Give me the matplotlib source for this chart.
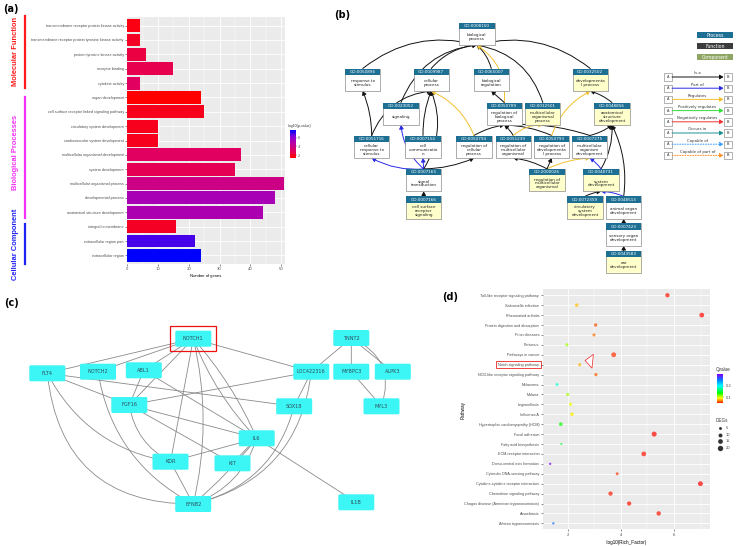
import matplotlib.pyplot as plt
import matplotlib.transforms as mtransforms
from matplotlib.colors import LinearSegmentedColormap, Normalize
from matplotlib.patches import Rectangle, FancyBboxPatch, FancyArrowPatch
from matplotlib.cm import ScalarMappable

plt.rcParams['font.family'] = ['DejaVu Sans']

W, H = 738, 546

# ---------------- (a) GO enrichment bars ----------------
go_terms = ["transmembrane receptor protein kinase activity",
            "transmembrane receptor protein tyrosine kinase activity",
            "protein tyrosine kinase activity", "receptor binding", "cytokine activity",
            "organ development", "cell surface receptor linked signaling pathway",
            "circulatory system development", "cardiovascular system development",
            "multicellular organismal development", "system development",
            "multicellular organismal process", "developmental process",
            "anatomical structure development", "integral to membrane",
            "extracellular region part", "extracellular region"]
go_counts = [4, 4, 6, 15, 4, 24, 25, 10, 10, 37, 35, 51, 48, 44, 16, 22, 24]
go_logp = [1.7, 2.0, 2.5, 2.7, 3.0, 1.4, 1.85, 1.9, 1.9, 3.0, 2.8, 3.9, 5.2, 5.05, 2.0, 6.9, 7.7]
go_groups = ["Molecular Function", "Biological Processes", "Cellular Component"]
go_group_span = [(-0.7, 4.35), (4.95, 13.4), (13.8, 16.6)]
go_group_mid = [1.82, 8.84, 15.26]
go_group_colors = ["#FF1A1A", "#F531F5", "#2020F5"]

# ---------------- (b) GO graph ----------------
node_ids = ["GO:0008150", "GO:0050896", "GO:0009987", "GO:0065007", "GO:0032502",
            "GO:0023052", "GO:0050789", "GO:0032501", "GO:0048856",
            "GO:0051716", "GO:0007154", "GO:0050794", "GO:0051239", "GO:0050793", "GO:0007275",
            "GO:0007165", "GO:2000026", "GO:0048731",
            "GO:0007166", "GO:0072359", "GO:0048513", "GO:0007423", "GO:0043583"]
node_names = ["biological\nprocess", "response to\nstimulus", "cellular\nprocess", "biological\nregulation",
              "developmenta\nl process", "signaling", "regulation of\nbiological\nprocess",
              "multicellular\norganismal\nprocess", "anatomical\nstructure\ndevelopment",
              "cellular\nresponse to\nstimulus", "cell\ncommunicatio\nn", "regulation of\ncellular\nprocess",
              "regulation of\nmulticellular\norganismal", "regulation of\ndevelopmenta\nl process",
              "multicellular\norganism\ndevelopment", "signal\ntransduction",
              "regulation of\nmulticellular\norganismal", "system\ndevelopment",
              "cell surface\nreceptor\nsignaling", "circulatory\nsystem\ndevelopment",
              "animal organ\ndevelopment", "sensory organ\ndevelopment", "ear\ndevelopment"]
node_x = [476.8, 362.7, 431.2, 491.3, 590.3, 401.0, 504.3, 542.8, 612.0,
          371.7, 423.0, 474.0, 513.2, 551.7, 589.8, 423.7, 547.0, 601.0,
          423.7, 585.0, 623.7, 623.7, 623.7]
node_y = [33.8, 79.8, 79.8, 79.8, 79.8, 113.8, 113.8, 113.8, 113.8,
          146.8, 146.8, 146.8, 146.8, 146.8, 146.8, 180.2, 180.2, 180.2,
          207.7, 207.7, 207.7, 234.7, 262.0]
node_hit = [0, 0, 0, 0, 1, 0, 0, 1, 1, 0, 0, 0, 0, 0, 0, 0, 1, 1, 1, 1, 0, 0, 1]
# (child, parent, relation, curvature)
go_links = [(1, 0, "is_a", -0.25), (2, 0, "is_a", -0.2), (3, 0, "is_a", 0.15), (4, 0, "is_a", 0.25),
            (5, 0, "is_a", -0.3), (7, 0, "is_a", 0.3), (6, 0, "regulates", 0.3),
            (9, 1, "is_a", 0.1), (9, 2, "is_a", -0.3), (10, 2, "is_a", -0.1), (15, 2, "is_a", 0.25),
            (6, 3, "is_a", 0.0), (11, 6, "is_a", -0.1), (12, 6, "is_a", 0.1), (13, 6, "is_a", 0.1),
            (14, 6, "is_a", 0.1), (14, 8, "is_a", 0.1), (8, 4, "is_a", 0.1), (17, 8, "is_a", 0.15),
            (20, 8, "is_a", 0.15), (11, 2, "regulates", 0.2), (13, 4, "regulates", -0.2),
            (12, 7, "regulates", -0.2), (16, 14, "regulates", -0.1), (16, 12, "is_a", 0.1),
            (16, 13, "is_a", 0.0), (15, 9, "part_of", -0.15), (15, 5, "part_of", -0.2),
            (15, 10, "part_of", 0.0), (15, 11, "is_a", 0.1), (17, 14, "part_of", 0.1),
            (18, 15, "is_a", 0.0), (19, 17, "is_a", -0.1), (20, 17, "part_of", 0.1),
            (21, 20, "is_a", 0.0), (22, 21, "is_a", 0.0)]
rel_names = ["Is a", "Part of", "Regulates", "Positively regulates", "Negatively regulates",
             "Occurs in", "Capable of", "Capable of part of"]
rel_colors = ["#111111", "#2B2BE8", "#F2C12E", "#33DD33", "#EE3333", "#1A9090", "#3399FF", "#FF8C1A"]
rel_styles = ["-", "-", "-", "-", "-", "-", ":", ":"]
onto_names = ["Process", "Function", "Component"]
onto_colors = ["#1D6F94", "#3C3C3C", "#8EA564"]

# ---------------- (c) PPI network ----------------
ppi_nodes = ["NOTCH1", "TNNT2", "FLT4", "NOTCH2", "ABL1", "LOC422316", "MYBPC3", "ALPK3",
             "FGF16", "SOX18", "MYL3", "IL6", "KDR", "KIT", "EFNB2", "IL1B"]
ppi_x = [193.3, 351.3, 47.3, 98.0, 143.8, 311.3, 351.3, 392.8,
         129.3, 294.2, 381.5, 256.7, 170.5, 232.5, 193.2, 356.3]
ppi_y = [338.7, 338.0, 373.3, 371.7, 370.3, 371.7, 371.7, 371.7,
         405.0, 406.3, 406.3, 438.3, 461.7, 463.3, 504.0, 502.3]
ppi_edges = [("NOTCH1", "FLT4", 0), ("NOTCH1", "NOTCH2", 0), ("NOTCH1", "ABL1", 0),
             ("NOTCH1", "FGF16", 0), ("NOTCH1", "LOC422316", 0), ("NOTCH1", "KDR", 0),
             ("NOTCH1", "EFNB2", -0.12), ("NOTCH1", "IL6", -0.08), ("NOTCH1", "IL6", 0.1),
             ("TNNT2", "LOC422316", 0), ("TNNT2", "MYBPC3", 0), ("TNNT2", "ALPK3", 0),
             ("TNNT2", "MYL3", -0.45), ("MYBPC3", "MYL3", 0),
             ("FLT4", "FGF16", 0), ("FLT4", "SOX18", 0), ("FLT4", "KDR", 0.25),
             ("FLT4", "EFNB2", 0.45), ("NOTCH2", "EFNB2", 0.25),
             ("ABL1", "FGF16", 0), ("ABL1", "IL6", 0),
             ("LOC422316", "FGF16", 0), ("LOC422316", "SOX18", 0), ("LOC422316", "EFNB2", -0.35),
             ("FGF16", "IL6", 0), ("FGF16", "KDR", 0.25), ("FGF16", "KIT", 0),
             ("SOX18", "EFNB2", -0.3), ("IL6", "KDR", 0), ("IL6", "KIT", 0),
             ("IL6", "EFNB2", -0.25), ("IL6", "EFNB2", -0.05), ("IL6", "IL1B", 0), ("KDR", "EFNB2", 0)]

# ---------------- (d) KEGG dot plot ----------------
kegg_paths = ["Toll-like receptor signaling pathway", "Salmonella infection", "Rheumatoid arthritis",
              "Protein digestion and absorption", "Prion diseases", "Pertussis", "Pathways in cancer",
              "Notch signaling pathway", "NOD-like receptor signaling pathway", "Melanoma", "Malaria",
              "Legionellosis", "Influenza A", "Hypertrophic cardiomyopathy (HCM)", "Focal adhesion",
              "Fatty acid biosynthesis", "ECM-receptor interaction", "Dorso-ventral axis formation",
              "Cytosolic DNA-sensing pathway", "Cytokine-cytokine receptor interaction",
              "Chemokine signaling pathway", "Chagas disease (American trypanosomiasis)",
              "Amoebiasis", "African trypanosomiasis"]
kegg_rich = [5.75, 2.34, 7.04, 3.05, 2.99, 1.97, 3.73, 2.45, 3.06, 1.6, 2.0, 2.11,
             2.16, 1.74, 5.25, 1.76, 4.86, 1.34, 3.86, 6.99, 3.61, 4.31, 5.42, 1.46]
kegg_q = [0.05, 0.08, 0.048, 0.06, 0.065, 0.11, 0.055, 0.078, 0.062, 0.19, 0.11, 0.095,
          0.09, 0.137, 0.048, 0.15, 0.05, 0.30, 0.055, 0.047, 0.052, 0.05, 0.05, 0.257]
kegg_degs = [12, 8, 15, 7, 6, 6, 16, 6, 7, 5, 6, 7, 9, 9, 17, 2, 15, 3, 5, 16, 12, 12, 13, 3]
deg_legend = [5, 10, 15, 20]

TICK_FONT = 'Liberation Sans'


def px_rect(left, top, width, height):
    return [left / W, 1 - (top + height) / H, width / W, height / H]


def deg_size(n):
    return 0.72 * n + 0.8


fig = plt.figure(figsize=(W / 100, H / 100), dpi=100)
canvas = fig.add_axes([0, 0, 1, 1])
canvas.set_xlim(0, W)
canvas.set_ylim(H, 0)
canvas.axis('off')

for lbl, (lx, ly) in zip(["(a)", "(b)", "(c)", "(d)"], [(3, 9), (334, 15), (4, 303), (442, 297)]):
    canvas.text(lx, ly, lbl, fontsize=7, fontweight='bold', va='center', ha='left')

# ---- panel (a)
ax_a = fig.add_axes(px_rect(127.3, 17, 157.4, 247))
cmap_a = LinearSegmentedColormap.from_list('rb', [(0, '#FF0000'), (0.25, '#E2005F'), (0.5, '#BC009F'),
                                                  (0.75, '#8A00D4'), (1, '#0000FF')])
norm_a = Normalize(1.4, 7.7)
ypos = list(range(len(go_terms)))
ax_a.barh(ypos, go_counts, height=0.9, color=cmap_a(norm_a(go_logp)), zorder=3)
ax_a.set_facecolor('#EBEBEB')
ax_a.set_xlim(0, 51.2)
ax_a.set_ylim(16.6, -0.6)
ax_a.set_yticks(ypos)
ax_a.set_yticklabels(go_terms, family=TICK_FONT)
ax_a.set_xticks([0, 10, 20, 30, 40, 50])
ax_a.set_xticks([5, 15, 25, 35, 45], minor=True)
ax_a.grid(which='major', color='white', lw=0.6, zorder=0)
ax_a.grid(which='minor', axis='x', color='white', lw=0.3, zorder=0)
ax_a.tick_params(length=1.5, width=0.4, color='#333333', pad=1, labelsize=2.7, labelcolor='#4D4D4D')
ax_a.tick_params(which='minor', length=0)
for s in ax_a.spines.values():
    s.set_visible(False)
ax_a.set_xlabel('Number of genes', fontsize=3.0, labelpad=1.5, family=TICK_FONT)

cax_a = fig.add_axes(px_rect(289.5, 130, 6, 28))
cb_a = fig.colorbar(ScalarMappable(norm_a, cmap_a), cax=cax_a, ticks=[2, 4, 6])
cb_a.outline.set_visible(False)
cax_a.tick_params(labelsize=2.5, length=1, width=0.3, pad=0.8, colors='#4D4D4D')
canvas.text(288, 126, '-log10(p-value)', fontsize=2.5, color='#333333', va='center', family=TICK_FONT)

blend_a = mtransforms.blended_transform_factory(canvas.transData, ax_a.transData)
for name, (y0, y1), mid, col in zip(go_groups, go_group_span, go_group_mid, go_group_colors):
    canvas.plot([24.5, 24.5], [y0, y1], color=col, lw=1.6, transform=blend_a, clip_on=False)
    canvas.text(15.8, mid, name, rotation=90, transform=blend_a, color=col,
                fontsize=5.4, fontweight='bold', family='Liberation Sans', ha='center', va='center')

# ---- panel (b)
BW, BH, HH = 35.4, 22.6, 6.6
for c, p, kind, rad in go_links:
    col = rel_colors[["is_a", "part_of", "regulates"].index(kind)]
    start = (node_x[c], node_y[c] - BH / 2)
    end = (node_x[p], node_y[p] + BH / 2)
    canvas.add_patch(FancyArrowPatch(start, end, connectionstyle=f'arc3,rad={rad}',
                                     arrowstyle='-|>,head_length=2.2,head_width=1.3',
                                     color=col, lw=0.7, shrinkA=0, shrinkB=0, zorder=4))
for gid, name, x, y, hit in zip(node_ids, node_names, node_x, node_y, node_hit):
    canvas.add_patch(Rectangle((x - BW / 2, y - BH / 2), BW, BH, fc='#FFFFCC' if hit else 'white',
                               ec='#8C8C8C', lw=0.5, zorder=5))
    canvas.add_patch(Rectangle((x - BW / 2, y - BH / 2), BW, HH, fc='#1D6F94', ec='none', zorder=6))
    canvas.text(x, y - BH / 2 + HH / 2, gid, color='white', fontsize=3, ha='center', va='center', zorder=7)
    canvas.text(x, y + HH / 2, name, fontsize=3, ha='center', va='center', linespacing=0.95,
                color='#222222', zorder=7)

for i, (name, col) in enumerate(zip(onto_names, onto_colors)):
    ty = 32.3 + i * 11
    canvas.add_patch(Rectangle((697, ty), 36, 5.8, fc=col, ec='none'))
    canvas.text(715, ty + 2.9, name, color='white', fontsize=3.3, ha='center', va='center')

for i, (name, col, ls) in enumerate(zip(rel_names, rel_colors, rel_styles)):
    ry = 77 + i * 11.2
    for bx, t in [(663.5, 'A'), (723.5, 'B')]:
        canvas.add_patch(Rectangle((bx, ry - 3.7), 8.5, 7.4, fc='white', ec='#777777', lw=0.4))
        canvas.text(bx + 4.25, ry, t, fontsize=2.6, ha='center', va='center', color='#333333')
    canvas.add_patch(FancyArrowPatch((672, ry), (723.5, ry), arrowstyle='-|>,head_length=2.2,head_width=1.3',
                                     color=col, lw=0.7, linestyle=ls, shrinkA=0, shrinkB=0))
    canvas.text(697.5, ry - 1.6, name, fontsize=2.8, ha='center', va='bottom', color='#333333')

# ---- panel (c)
for a, b, rad in ppi_edges:
    ia, ib = ppi_nodes.index(a), ppi_nodes.index(b)
    canvas.add_patch(FancyArrowPatch((ppi_x[ia], ppi_y[ia]), (ppi_x[ib], ppi_y[ib]),
                                     connectionstyle=f'arc3,rad={rad}', arrowstyle='-',
                                     color='#8A8A8A', lw=0.6, shrinkA=0, shrinkB=0, zorder=2))
for name, x, y in zip(ppi_nodes, ppi_x, ppi_y):
    canvas.add_patch(FancyBboxPatch((x - 18, y - 8), 36, 16, boxstyle='round,pad=0,rounding_size=1.5',
                                    fc='#3CF5F5', ec='none', zorder=3))
    canvas.text(x, y, name, fontsize=3.6, ha='center', va='center', color='#2F4F5A', zorder=4)
hx, hy = ppi_x[0], ppi_y[0]
canvas.add_patch(Rectangle((hx - 23, hy - 13), 46, 25, fc='none', ec='#EE1111', lw=0.9, zorder=5))

# ---- panel (d)
ax_d = fig.add_axes(px_rect(542.7, 289.3, 167.3, 240))
cmap_d = LinearSegmentedColormap.from_list('rainbow_q', [(0, '#FF0000'), (0.08, '#FF8000'), (0.18, '#FFFF00'),
                                                         (0.36, '#00FF00'), (0.6, '#00FFFF'),
                                                         (0.8, '#0080FF'), (1, '#8000FF')])
norm_d = Normalize(0.047, 0.303)
yk = [len(kegg_paths) - 1 - i for i in range(len(kegg_paths))]
ax_d.set_facecolor('#EBEBEB')
ax_d.scatter(kegg_rich, yk, s=[deg_size(n) for n in kegg_degs], c=kegg_q, cmap=cmap_d, norm=norm_d,
             alpha=0.7, linewidths=0, zorder=3)
ax_d.set_xlim(1.06, 7.35)
ax_d.set_ylim(-0.6, len(kegg_paths) - 0.4)
ax_d.set_yticks(yk)
ax_d.set_yticklabels(kegg_paths, family=TICK_FONT)
ax_d.set_xticks([2, 4, 6])
ax_d.set_xticks([3, 5, 7], minor=True)
ax_d.grid(which='major', color='white', lw=0.6, zorder=0)
ax_d.grid(which='minor', axis='x', color='white', lw=0.3, zorder=0)
ax_d.tick_params(length=1.5, width=0.4, color='#333333', pad=1, labelsize=2.7, labelcolor='#4D4D4D')
ax_d.tick_params(which='minor', length=0)
for s in ax_d.spines.values():
    s.set_visible(False)
ax_d.set_xlabel('-log10(Rich_Factor)', fontsize=3.3, labelpad=2, family=TICK_FONT)
canvas.text(463, 410, 'Pathway', rotation=90, fontsize=3.3, ha='center', va='center', family=TICK_FONT)

notch_y = yk[kegg_paths.index("Notch signaling pathway")]
blend_d = mtransforms.blended_transform_factory(canvas.transData, ax_d.transData)
canvas.add_patch(Rectangle((496, notch_y - 0.38), 45, 0.76, transform=blend_d, fc='none', ec='#EE2222',
                           lw=0.6, clip_on=False))
ax_d.annotate('', xy=(2.55, notch_y + 0.45), xytext=(2.92, notch_y + 0.35),
              arrowprops=dict(arrowstyle='simple,head_length=0.55,head_width=1.0,tail_width=0.45',
                              fc='white', ec='#EE2222', lw=0.5))

cax_d = fig.add_axes(px_rect(717.3, 374.3, 6, 29))
cb_d = fig.colorbar(ScalarMappable(norm_d, cmap_d), cax=cax_d, ticks=[0.1, 0.2])
cb_d.outline.set_visible(False)
cax_d.tick_params(labelsize=2.6, length=1, width=0.3, pad=0.8, colors='#4D4D4D')
canvas.text(716, 369.5, 'Qvalue', fontsize=3.3, color='#333333', va='center', family=TICK_FONT)
canvas.text(716, 420, 'DEGs', fontsize=3.3, color='#333333', va='center', family=TICK_FONT)
for i, n in enumerate(deg_legend):
    ly = 427.7 + i * 6.8
    canvas.scatter([720], [ly], s=deg_size(n), color='#333333', linewidths=0)
    canvas.text(726, ly, str(n), fontsize=2.6, color='#4D4D4D', va='center')

fig.savefig('out.png', dpi=100)
